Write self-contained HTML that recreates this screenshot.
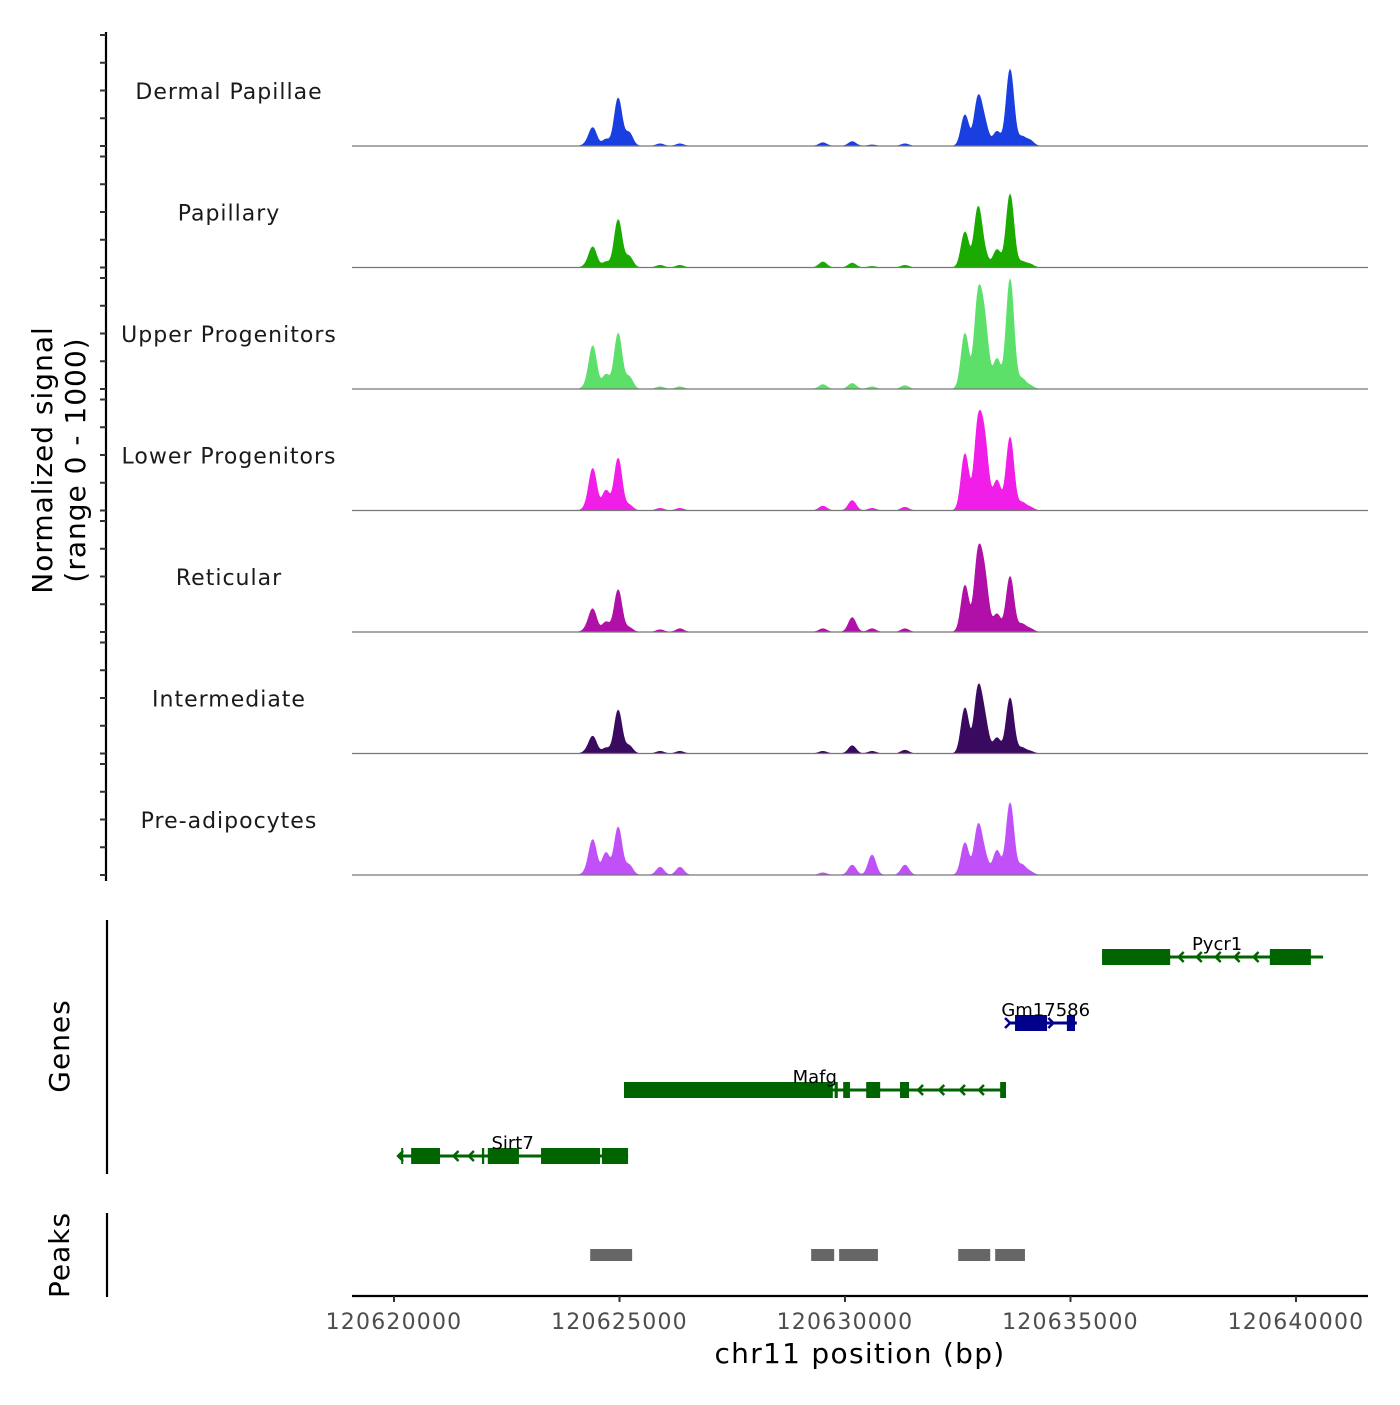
<!DOCTYPE html>
<html><head><meta charset="utf-8"><style>
body{margin:0;background:#fff;}
svg text{font-family:"DejaVu Sans","Liberation Sans",sans-serif;}
</style></head><body>
<svg id="chart" width="1400" height="1400" viewBox="0 0 1400 1400" xmlns="http://www.w3.org/2000/svg"></svg>
<script>
// ---- data ----
const trackNames = ["Dermal Papillae","Papillary","Upper Progenitors","Lower Progenitors","Reticular","Intermediate","Pre-adipocytes"];
const trackColors = ["#1a3fe0","#1aaa00","#5ce06a","#f01ee8","#b010a8","#3a0a60","#c050f8"];
// peak positions (kb offset from 120620000)
const peakPos = [4.28,4.41,4.70,4.97,5.21,5.90,6.34,9.51,10.16,10.60,11.33,12.66,12.95,13.10,13.37,13.66,13.92,14.10];
// heights (0-100 of track range) per track
const dermalVals = [2,16,6,43,12,2,2,3,4,1,2,28,42,18,13,69,8,5];
const papillaryVals = [2,18,5,43,10,2,2,5,4,1,2,32,53,10,16,66,5,3];
const upperVals = [3,38,13,50,11,2,2,4,5,2,3,50,79,54,27,99,9,3];
const lowerVals = [3,37,18,47,5,2,2,4,9,2,3,51,74,56,27,66,7,3];
const reticularVals = [3,20,9,38,4,2,3,3,13,3,3,42,67,45,16,50,7,3];
const intermediateVals = [2,15,5,39,7,2,2,2,7,2,3,41,56,27,14,50,5,2];
const preadipoVals = [3,31,20,43,9,7,7,2,9,18,9,29,43,15,22,65,9,3];
const trackVals = [dermalVals,papillaryVals,upperVals,lowerVals,reticularVals,intermediateVals,preadipoVals];
const xTicks = [120620000,120625000,120630000,120635000,120640000];
const genes = [
 {name:"Pycr1", y:957, color:"#006400", line:[15.70,20.60], exons:[[15.70,17.21],[19.42,20.33]], arrows:[17.40,17.80,18.22,18.64,19.06], label:18.25, dir:-1},
 {name:"Gm17586", y:1023, color:"#00008b", line:[13.66,15.14], exons:[[13.77,14.48],[14.92,15.10]], arrows:[13.66,14.62], label:14.45, dir:1},
 {name:"Mafg", y:1090, color:"#006400", line:[5.10,13.57], exons:[[5.10,9.73],[9.77,9.84],[9.96,10.11],[10.47,10.78],[11.22,11.42],[13.44,13.57]], arrows:[11.62,12.09,12.55,12.97], label:9.33, dir:-1},
 {name:"Sirt7", y:1156, color:"#006400", line:[0.09,5.19], exons:[[0.16,0.20],[0.38,1.02],[1.95,2.00],[2.08,2.77],[3.26,4.57],[4.61,5.19]], arrows:[0.09,1.32,1.66,2.30], label:2.63, dir:-1}
];
const peakRegions = [[4.35,5.28],[9.25,9.76],[9.87,10.73],[12.51,13.22],[13.33,13.99]];

// ---- scales ----
const X0 = 394, PXKB = 45.1;
const xs = kb => X0 + kb*PXKB;
const xbp = bp => xs((bp-120620000)/1000);
const base0 = 146, trackStep = 121.5, trackH = 111;
const NS = "http://www.w3.org/2000/svg";
const svg = document.getElementById('chart');
function mk(tag, attrs, parent){const e=document.createElementNS(NS,tag);for(const k in attrs)e.setAttribute(k,attrs[k]);(parent||svg).appendChild(e);return e;}

const ax = mk('line',{x1:106,y1:32,x2:106,y2:881,stroke:'#000','stroke-width':2.2});


for(let t=0;t<7;t++){
  const b = base0 + t*trackStep;
  for(let k=0;k<5;k++){
    const tk = mk('line',{x1:100,x2:106,y1:b-k*trackH/4,y2:b-k*trackH/4,stroke:'#333','stroke-width':2});
    
    
  }
}
const yt = mk('text',{x:0,y:0,'font-size':28,'letter-spacing':'1','text-anchor':'middle',fill:'#000',transform:'translate(52,460) rotate(-90)'});


yt.innerHTML='<tspan x="0" dy="0">Normalized signal</tspan><tspan x="0" dy="33">(range 0 - 1000)</tspan>';

for(let t=0;t<7;t++){
  const b = base0 + t*trackStep;
  const g = mk('g',{});
  
  
  const vals = trackVals[t];
  let d = 'M352,'+b;
  for(let px=352;px<=1368;px+=1){
    const kb=(px-X0)/PXKB;
    let h=0;
    for(let i=0;i<peakPos.length;i++){
      const dx=(kb-peakPos[i])/0.085;
      h+=vals[i]*Math.exp(-0.5*dx*dx);
    }
    d+=' L'+px+','+(b-Math.min(h,100)*trackH/100).toFixed(2);
  }
  d+=' L1368,'+b+' Z';
  const p = mk('path',{d:d,fill:trackColors[t],stroke:trackColors[t],'stroke-width':0.6},g);
  
  
  const bl = mk('line',{x1:352,x2:1368,y1:b,y2:b,stroke:'#777','stroke-width':1.2},g);
  
  
  const lb = mk('text',{x:229,y:b-47,'font-size':22,'text-anchor':'middle',fill:'#1a1a1a','letter-spacing':'1'},g);
  
  
  lb.textContent=trackNames[t];
}

const gax = mk('line',{x1:107,y1:920,x2:107,y2:1174,stroke:'#000','stroke-width':2.2});


const gt = mk('text',{x:0,y:0,'font-size':28,'letter-spacing':'1','text-anchor':'middle',fill:'#000',transform:'translate(69,1046) rotate(-90)'});


gt.textContent='Genes';
genes.forEach(gn=>{
  const g = mk('g',{});
  
  
  mk('line',{x1:xs(gn.line[0]),x2:xs(gn.line[1]),y1:gn.y,y2:gn.y,stroke:gn.color,'stroke-width':3},g);
  gn.exons.forEach(e=>{
    const r = mk('rect',{x:xs(e[0]),y:gn.y-8,width:Math.max(xs(e[1])-xs(e[0]),2),height:16,fill:gn.color},g);
    
    
  });
  gn.arrows.forEach(a=>{
    const x=xs(a), s=-gn.dir*5;
    mk('polyline',{points:(x+s)+','+(gn.y-5)+' '+x+','+gn.y+' '+(x+s)+','+(gn.y+5),fill:'none',stroke:gn.color,'stroke-width':2.5},g);
  });
  const lt = mk('text',{x:xs(gn.label),y:gn.y-7,'font-size':18,'text-anchor':'middle',fill:'#000'},g);
  
  
  lt.textContent=gn.name;
});

const pax = mk('line',{x1:107,y1:1213,x2:107,y2:1297,stroke:'#000','stroke-width':2.2});


const pt = mk('text',{x:0,y:0,'font-size':28,'letter-spacing':'1','text-anchor':'middle',fill:'#000',transform:'translate(69,1255) rotate(-90)'});


pt.textContent='Peaks';
peakRegions.forEach(r=>{
  const e = mk('rect',{x:xs(r[0]),y:1249,width:xs(r[1])-xs(r[0]),height:12,fill:'#666'});
  
  
});

const xa = mk('line',{x1:352,x2:1368,y1:1296,y2:1296,stroke:'#000','stroke-width':2.2});


xTicks.forEach(v=>{
  const x=xbp(v);
  const tk = mk('line',{x1:x,x2:x,y1:1296,y2:1302,stroke:'#333','stroke-width':2});
  
  
  const tl = mk('text',{x:x,y:1329,'font-size':22,'letter-spacing':'1.2','text-anchor':'middle',fill:'#4d4d4d'});
  
  
  tl.textContent=String(v);
});
const xt = mk('text',{x:860,y:1363,'font-size':28,'letter-spacing':'1.3','text-anchor':'middle',fill:'#000'});


xt.textContent='chr11 position (bp)';
</script>
</body></html>
